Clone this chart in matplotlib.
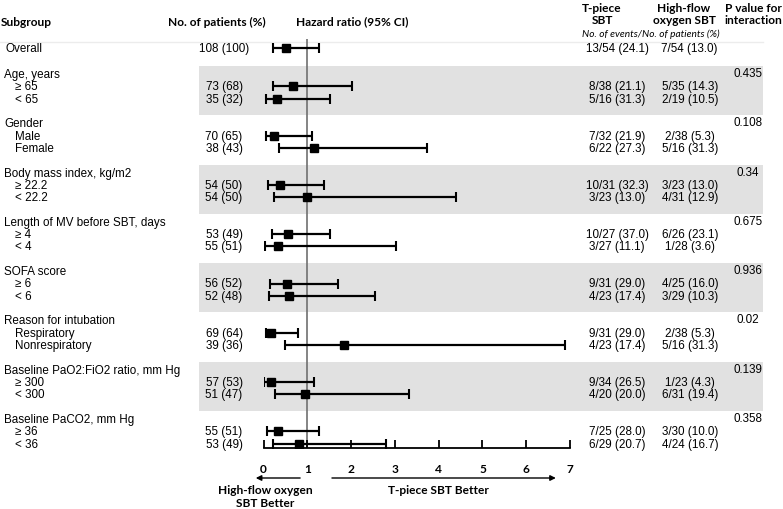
import numpy as np
import matplotlib.pyplot as plt

# subgroup data
groups = ["Age, years", "Gender", "Body mass index, kg/m2", "Length of MV before SBT, days",
          "SOFA score", "Reason for intubation", "Baseline PaO2:FiO2 ratio, mm Hg",
          "Baseline PaCO2, mm Hg"]
sublabels = [["≥ 65", "< 65"], ["Male", "Female"], ["≥ 22.2", "< 22.2"], ["≥ 4", "< 4"],
             ["≥ 6", "< 6"], ["Respiratory", "Nonrespiratory"], ["≥ 300", "< 300"],
             ["≥ 36", "< 36"]]
p_values = ["0.435", "0.108", "0.34", "0.675", "0.936", "0.02", "0.139", "0.358"]

overall_n = "108 (100)"
overall_hr = 0.51
overall_lo = 0.21
overall_hi = 1.27
overall_tpiece = "13/54 (24.1)"
overall_hfo = "7/54 (13.0)"

n_pct = ["73 (68)", "35 (32)", "70 (65)", "38 (43)", "54 (50)", "54 (50)", "53 (49)", "55 (51)",
         "56 (52)", "52 (48)", "69 (64)", "39 (36)", "57 (53)", "51 (47)", "55 (51)", "53 (49)"]
hr = [0.67, 0.30, 0.24, 1.15, 0.38, 0.99, 0.56, 0.32, 0.53, 0.58, 0.17, 1.84, 0.16, 0.95, 0.32, 0.80]
lo = [0.22, 0.05, 0.05, 0.36, 0.10, 0.23, 0.20, 0.03, 0.15, 0.13, 0.05, 0.50, 0.02, 0.27, 0.07, 0.22]
hi = [2.01, 1.52, 1.11, 3.74, 1.38, 4.40, 1.53, 3.03, 1.70, 2.55, 0.78, 6.88, 1.15, 3.33, 1.27, 2.80]
tpiece = ["8/38 (21.1)", "5/16 (31.3)", "7/32 (21.9)", "6/22 (27.3)", "10/31 (32.3)", "3/23 (13.0)",
          "10/27 (37.0)", "3/27 (11.1)", "9/31 (29.0)", "4/23 (17.4)", "9/31 (29.0)", "4/23 (17.4)",
          "9/34 (26.5)", "4/20 (20.0)", "7/25 (28.0)", "6/29 (20.7)"]
hfo = ["5/35 (14.3)", "2/19 (10.5)", "2/38 (5.3)", "5/16 (31.3)", "3/23 (13.0)", "4/31 (12.9)",
       "6/26 (23.1)", "1/28 (3.6)", "4/25 (16.0)", "3/29 (10.3)", "2/38 (5.3)", "5/16 (31.3)",
       "1/23 (4.3)", "6/31 (19.4)", "3/30 (10.0)", "4/24 (16.7)"]

W, H = 783, 510
body = dict(family=["Liberation Sans", "DejaVu Sans"], size=8.4, va="center")
head = dict(family=["Lato", "DejaVu Sans"], size=8.6, weight="bold", va="center")

fig = plt.figure(figsize=(W / 100, H / 100), dpi=100)
bg = fig.add_axes([0, 0, 1, 1])
bg.set_xlim(0, W)
bg.set_ylim(H, 0)
bg.axis("off")

# row layout (pixel units)
y_overall = 49
y_head = 75 + 49.3 * np.arange(len(groups))
y_sub = np.column_stack([y_head + 12.3, y_head + 24.6]).ravel()

for k in range(0, len(groups), 2):
    bg.axhspan(y_head[k] - 8, y_head[k] + 41, xmin=199 / W, xmax=763 / W,
               color="#e1e1e1", lw=0, zorder=0)
bg.axhline(43, xmin=0, xmax=763 / W, color="#ececec", lw=1)

# column headers
bg.text(1, 22, "Subgroup", ha="left", **head)
bg.text(217, 22, "No. of patients (%)", ha="center", **head)
bg.text(352, 22, "Hazard ratio (95% CI)", ha="center", **head)
bg.text(602, 8, "T-piece", ha="center", **head)
bg.text(602, 21, "SBT", ha="center", **head)
bg.text(684, 8, "High-flow", ha="center", **head)
bg.text(684, 21, "oxygen SBT", ha="center", **head)
bg.text(753, 8, "P value for", ha="center", **head)
bg.text(753, 21, "interaction", ha="center", **head)
bg.text(651, 34, "No. of events/No. of patients (%)", ha="center", style="italic",
        family=["Lato", "DejaVu Sans"], size=7.3, va="center")

# table text
bg.text(6, y_overall, "Overall", ha="left", **body)
bg.text(224, y_overall, overall_n, ha="center", **body)
bg.text(617, y_overall, overall_tpiece, ha="center", **body)
bg.text(689, y_overall, overall_hfo, ha="center", **body)
for k, g in enumerate(groups):
    bg.text(4, y_head[k], g, ha="left", **body)
    bg.text(748, y_head[k] - 1, p_values[k], ha="center", **body)
    for j in range(2):
        i = 2 * k + j
        bg.text(15, y_sub[i], sublabels[k][j], ha="left", **body)
for i in range(len(n_pct)):
    bg.text(224, y_sub[i], n_pct[i], ha="center", **body)
    bg.text(617, y_sub[i], tpiece[i], ha="center", **body)
    bg.text(690, y_sub[i], hfo[i], ha="center", **body)

# forest plot
x0px, x7px = 263.5, 570
ax_top, ax_bot = 40, 449
ax = fig.add_axes([x0px / W, 1 - ax_bot / H, (x7px - x0px) / W, (ax_bot - ax_top) / H])
ax.set_xlim(0, 7)
ax.set_ylim(ax_bot, ax_top)
ax.patch.set_alpha(0)
for s in ["top", "left", "right"]:
    ax.spines[s].set_visible(False)
ax.spines["bottom"].set_linewidth(1.3)
ax.set_yticks([])
ax.set_xticks(range(8))
ax.tick_params(axis="x", direction="in", length=6, width=1.3, pad=11)
for t in ax.get_xticklabels():
    t.set_fontfamily(["Lato", "DejaVu Sans"])
    t.set_fontweight("bold")
    t.set_fontsize(8.6)

ax.axvline(1, color="#707070", lw=1.2, zorder=1)

all_hr = np.array([overall_hr] + hr)
all_lo = np.array([overall_lo] + lo)
all_hi = np.array([overall_hi] + hi)
all_y = np.concatenate([[y_overall], y_sub])
ax.errorbar(all_hr, all_y, xerr=[all_hr - all_lo, all_hi - all_hr], fmt="s", color="black",
            ms=5.8, elinewidth=1.6, capsize=3.3, capthick=1.5, zorder=3)

arrow = dict(arrowstyle="-|>", color="black", lw=1, mutation_scale=8)
ax.annotate("", xy=(-0.24, 479), xytext=(0.9, 479), arrowprops=arrow, annotation_clip=False)
ax.annotate("", xy=(6.74, 479), xytext=(1.5, 479), arrowprops=arrow, annotation_clip=False)

bg.text(265, 491, "High-flow oxygen", ha="center", **head)
bg.text(265, 504, "SBT Better", ha="center", **head)
bg.text(438, 491, "T-piece SBT Better", ha="center", **head)

fig.savefig("out.png", dpi=100)
